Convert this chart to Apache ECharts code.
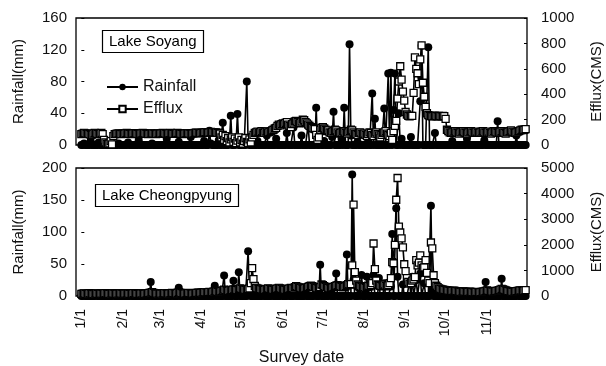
<!DOCTYPE html>
<html>
<head>
<meta charset="utf-8">
<script src="https://cdn.jsdelivr.net/npm/echarts@6/dist/echarts.min.js"></script>
<style>
  html, body { margin: 0; padding: 0; background: #fff; }
  #chart { width: 606px; height: 366px; }
</style>
</head>
<body>
<div id="chart"></div>
<script>
  // x = day of year, 0 = 1/1 ... 333 = 11/30
  var monthStarts = [0, 31, 59, 90, 120, 151, 181, 212, 243, 273, 304];
  var monthLabels = ['1/1', '2/1', '3/1', '4/1', '5/1', '6/1', '7/1', '8/1', '9/1', '10/1', '11/1'];

  // Lake Soyang, rainfall (mm), one value per day
  var soyangRain = [
    0,0,2,0,0,0,0,5,0,0, 0,0,0,3,0,0,0,0,0,0, 0,4,0,0,0,0,0,0,2,0, 0,            // Jan
    0,0,0,0,3,0,0,0,0,0, 0,0,6,0,0,0,0,0,0,0, 0,0,2,0,0,0,0,0,                   // Feb
    0,0,0,0,0,8,0,0,0,0, 0,0,0,0,4,0,0,0,0,0, 0,0,0,10,0,0,0,0,0,0, 0,           // Mar
    0,0,5,0,0,0,18,2,0,0, 0,0,0,6,0,0,28,0,0,0, 0,3,37,0,0,0,4,39,0,0,           // Apr
    0,2,0,0,80,3,0,0,0,0, 0,0,5,0,0,0,0,0,0,12, 0,0,0,0,0,0,8,0,0,0, 0,          // May
    0,0,0,15,0,0,0,0,22,0, 0,0,0,0,12,0,0,0,0,25, 0,0,0,0,0,47,0,0,6,0,         // Jun
    0,5,0,0,0,0,0,10,42,0, 0,0,0,0,8,0,47,0,0,0, 127,12,0,0,0,0,4,0,0,0, 0,     // Jul
    0,0,0,6,0,0,65,0,33,0, 0,0,0,0,0,46,0,0,90,0, 91,0,44,90,0,0,40,0,8,0, 0,   // Aug
    0,0,0,0,10,0,0,0,0,0, 0,55,125,0,0,0,0,123,0,0, 0,0,15,0,0,0,0,0,0,0,       // Sep
    0,0,0,0,0,5,0,0,0,0, 0,0,0,0,0,0,8,0,0,0, 0,0,0,0,0,0,0,0,0,6, 0,           // Oct
    0,0,0,0,0,0,0,0,30,0, 0,0,0,0,0,0,0,0,0,0, 0,0,12,0,0,0,0,0,0,0             // Nov
  ];

  // Lake Soyang, efflux (CMS)
  var soyangEfflux = [
    85,90,95,92,88,90,85,80,82,90, 95,92,88,85,90,96,85,40,20,10, 8,12,30,5,70,85,88,90,92,88, 85,
    90,88,92,95,90,88,85,90,92,94, 90,88,86,90,92,95,93,90,88,85, 88,90,92,90,88,86,90,92,
    90,92,95,93,90,88,92,94,96,90, 88,90,92,95,93,90,88,86,90,92, 94,92,90,88,90,92,95,98,96,94, 92,
    95,98,100,102,100,98,100,104,102,100, 98,100,96,95,90,60,80,40,70,30, 55,20,45,60,25,50,15,35,60,20,
    40,10,30,55,25,15,45,20,60,80, 95,100,105,98,102,110,100,95,105,108, 100,104,110,115,120,130,135,150,160,155, 165,
    170,165,175,180,160,150,140,165,170,185, 190,180,170,175,185,200,195,180,170,160, 150,140,135,130,125,80,40,60,120,135,
    140,130,120,110,115,100,95,105,110,120, 115,100,90,95,100,110,105,95,90,100, 110,120,115,100,90,85,80,95,100,90, 85,
    90,80,70,85,100,95,80,70,90,100, 85,75,60,80,95,100,110,90,80,70, 95,40,110,150,190,365,500,620,515,420, 350,
    260,240,230,225,230,230,410,690,600,565, 480,675,785,490,380,300,250,235,230,228, 225,230,232,228,225,230,228,225,230,228,
    205,120,110,100,95,100,105,110,100,95, 90,100,105,110,100,95,90,100,105,110, 100,95,100,105,98,95,100,105,110,100, 95,
    100,105,95,90,100,110,105,100,95,100, 105,110,100,95,90,100,105,110,115,105, 100,95,100,105,110,115,120,118,120,125
  ];

  // Lake Cheongpyung, rainfall (mm)
  var cheongRain = [
    0,0,3,0,0,0,0,0,0,0, 0,2,0,0,0,0,0,0,0,0, 0,0,0,0,4,0,0,0,0,0, 0,
    0,0,0,0,0,0,3,0,0,0, 0,0,0,0,0,0,0,0,0,0, 0,22,0,0,0,0,0,0,
    0,0,0,0,0,0,0,0,0,4, 0,0,0,0,13,0,0,0,0,0, 0,0,0,0,0,0,5,0,0,0, 0,
    0,0,0,0,0,0,0,0,0,0, 16,0,0,0,0,0,0,32,0,0, 0,0,0,0,24,0,0,0,37,0,
    0,0,0,0,0,70,5,0,0,0, 0,0,0,0,0,0,6,0,0,0, 0,0,0,10,0,0,0,0,0,0, 12,
    0,0,0,0,8,0,0,0,0,14, 0,0,0,0,0,0,0,10,0,0, 0,0,0,0,15,0,0,0,49,0,
    0,0,0,0,0,8,0,0,0,0, 35,0,0,0,0,0,0,0,65,0, 0,0,190,25,0,0,0,12,0,33, 0,
    0,0,30,0,0,0,0,33,0,0, 0,28,0,0,0,20,0,0,0,0, 15,97,0,0,137,30,0,0,0,18, 0,
    0,0,0,22,0,30,0,0,25,0, 0,35,0,0,20,0,0,0,0,141, 10,0,0,0,0,0,0,0,0,0,
    0,0,0,0,6,0,0,0,0,0, 0,0,0,0,0,4,0,0,0,0, 0,0,0,0,0,0,0,0,0,0, 22,
    0,0,0,0,0,0,0,0,0,0, 0,27,0,0,0,0,0,0,0,0, 0,0,0,5,0,0,0,0,0,0
  ];

  // Lake Cheongpyung, efflux (CMS)
  var cheongEfflux = [
    80,90,100,85,70,90,110,95,80,75, 90,100,85,80,95,90,85,100,110,95, 80,85,90,100,95,85,80,90,95,100, 90,
    85,90,95,100,90,80,85,95,110,100, 90,85,80,95,100,90,85,95,100,110, 120,130,150,120,100,95,90,100,
    95,90,100,110,105,95,90,100,110,120, 110,100,95,120,150,130,110,100,95,105, 110,120,115,100,95,100,110,120,125,130, 120,
    130,140,150,145,140,150,160,155,150,170, 200,180,160,170,180,200,220,250,230,210, 200,220,240,230,260,250,240,230,280,300,
    280,260,250,240,260,270,300,500,1085,660, 390,320,300,280,270,260,250,240,260,280, 300,280,260,250,240,260,280,300,320,300, 280,
    260,250,240,260,280,300,320,310,300,350, 380,360,340,320,300,280,300,320,340,360, 380,400,380,360,340,320,300,320,350,450,
    420,380,360,340,320,300,320,340,360,380, 400,420,400,380,360,340,360,380,420,460, 450,460,1200,3570,930,600,450,400,380,360, 340,
    350,320,360,400,380,420,500,2050,1050,600, 450,420,400,380,420,450,400,380,420,500, 700,1320,1280,2000,3760,4610,2710,2480,2250,1900, 1240,
    970,700,550,480,500,600,650,740,1400,1200, 1300,1590,1200,1100,1120,1400,900,600,500,2090, 1860,810,500,400,350,300,280,260,250,240,
    230,220,210,200,190,200,210,200,190,180, 170,160,170,180,170,160,150,160,170,160, 150,140,150,160,150,140,150,160,170,180, 200,
    220,200,190,180,170,180,190,200,210,230, 250,280,260,240,220,200,190,180,170,160, 170,180,190,200,210,220,210,200,220,230
  ];

  function toPairs(arr) {
    return arr.map(function (v, i) { return [i, v]; });
  }

  var FONT = '"Liberation Sans", Arial, sans-serif';
  var myChart = echarts.init(document.getElementById('chart'), null, { renderer: 'canvas' });

  var rainStyle = {
    type: 'line',
    symbol: 'circle',
    symbolSize: 8,
    itemStyle: { color: '#000' },
    lineStyle: { color: '#000', width: 1.6 },
    clip: false
  };
  var effluxStyle = {
    type: 'line',
    symbol: 'rect',
    symbolSize: 7,
    itemStyle: { color: '#fff', borderColor: '#000', borderWidth: 1.3 },
    lineStyle: { color: '#000', width: 1.6 },
    clip: false
  };

  function xAxisCfg(idx, showLabels) {
    return {
      type: 'value',
      gridIndex: idx,
      min: -4,
      max: 334,
      splitLine: { show: false },
      axisLine: { show: false },
      axisTick: { show: false },
      axisLabel: {
        show: showLabels,
        customValues: monthStarts,
        rotate: 90,
        margin: 13,
        fontSize: 14,
        color: '#111',
        fontFamily: FONT,
        formatter: function (v) {
          var i = monthStarts.indexOf(v);
          return i >= 0 ? monthLabels[i] : '';
        }
      },
      name: showLabels ? 'Survey date' : '',
      nameLocation: 'middle',
      nameGap: 54,
      nameTextStyle: { fontSize: 16, color: '#111', fontFamily: FONT }
    };
  }

  function yAxisCfg(idx, pos, max, step, name, gap, margin) {
    return {
      type: 'value',
      gridIndex: idx,
      position: pos,
      min: 0,
      max: max,
      interval: step,
      splitLine: { show: false },
      axisLine: { show: false },
      axisTick: { show: true, inside: true, length: 3, lineStyle: { color: '#000' } },
      axisLabel: {
        fontSize: 15, color: '#111', margin: margin, fontFamily: FONT,
        formatter: function (v) { return String(v); }
      },
      name: name,
      nameLocation: 'middle',
      nameRotate: 90,
      nameGap: gap,
      nameTextStyle: { fontSize: 15, color: '#111', fontFamily: FONT }
    };
  }

  var option = {
    animation: false,
    backgroundColor: '#fff',
    textStyle: { fontFamily: FONT },
    title: [
      {
        text: 'Lake Soyang', left: 102, top: 30, padding: [4, 7],
        borderColor: '#000', borderWidth: 1.2,
        textStyle: { fontSize: 15, fontWeight: 'normal', color: '#000', fontFamily: FONT }
      },
      {
        text: 'Lake Cheongpyung', left: 95, top: 184, padding: [4, 7],
        borderColor: '#000', borderWidth: 1.2,
        textStyle: { fontSize: 15, fontWeight: 'normal', color: '#000', fontFamily: FONT }
      }
    ],
    legend: {
      orient: 'vertical',
      left: 101,
      top: 74,
      itemWidth: 31,
      itemHeight: 8,
      itemGap: 6,
      data: ['Rainfall', 'Efflux'],
      textStyle: { fontSize: 16, color: '#111', fontFamily: FONT }
    },
    grid: [
      { left: 76, top: 18, width: 451, height: 127, show: true, borderColor: '#000', borderWidth: 1.3,
        outerBoundsMode: 'none', containLabel: false },
      { left: 76, top: 168, width: 451, height: 128, show: true, borderColor: '#000', borderWidth: 1.3,
        outerBoundsMode: 'none', containLabel: false }
    ],
    xAxis: [xAxisCfg(0, false), xAxisCfg(1, true)],
    yAxis: [
      yAxisCfg(0, 'left', 160, 40, 'Rainfall(mm)', 50, 9),
      yAxisCfg(0, 'right', 1000, 200, 'Efflux(CMS)', 62, 14),
      yAxisCfg(1, 'left', 200, 50, 'Rainfall(mm)', 50, 9),
      yAxisCfg(1, 'right', 5000, 1000, 'Efflux(CMS)', 62, 14)
    ],
    series: [
      Object.assign({ name: 'Rainfall', xAxisIndex: 0, yAxisIndex: 0, data: toPairs(soyangRain) }, rainStyle),
      Object.assign({ name: 'Efflux', xAxisIndex: 0, yAxisIndex: 1, data: toPairs(soyangEfflux) }, effluxStyle),
      Object.assign({ name: 'Rainfall', xAxisIndex: 1, yAxisIndex: 2, data: toPairs(cheongRain) }, rainStyle),
      Object.assign({ name: 'Efflux', xAxisIndex: 1, yAxisIndex: 3, data: toPairs(cheongEfflux) }, effluxStyle)
    ]
  };

  myChart.setOption(option);
</script>
</body>
</html>
